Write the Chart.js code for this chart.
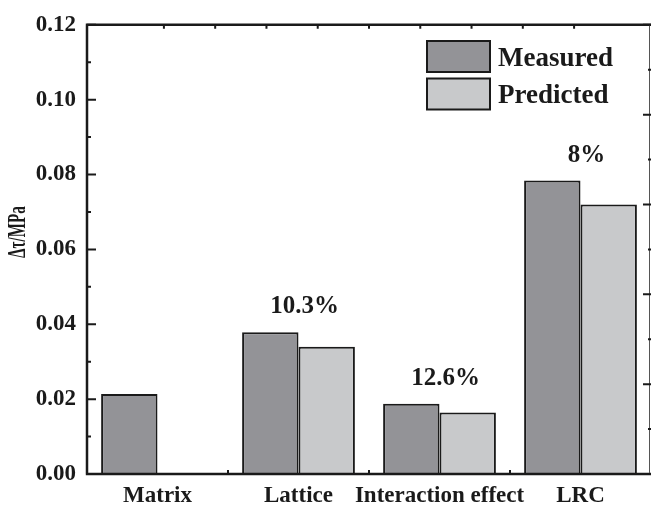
<!DOCTYPE html>
<html>
<head>
<meta charset="utf-8">
<script src="https://cdn.jsdelivr.net/npm/chart.js@4.4.1/dist/chart.umd.min.js"></script>
<style>
  html, body { margin: 0; padding: 0; background: #ffffff; }
  #wrap { width: 651px; height: 507px; }
</style>
</head>
<body>
<div id="wrap"><canvas id="c" width="651" height="507"></canvas></div>
<script>
// Strengthening contributions, measured vs. predicted
const categories = ['Matrix', 'Lattice', 'Interaction effect', 'LRC'];
const measured = [0.0214, 0.0379, 0.0188, 0.0784];
const predicted = [null, 0.0340, 0.0164, 0.0720];
const errorLabels = ['', '10.3%', '12.6%', '8%'];
const yTicks = [0, 0.02, 0.04, 0.06, 0.08, 0.10, 0.12];
const seriesNames = ['Measured', 'Predicted'];

const FONT = '"Liberation Serif", "Times New Roman", Times, serif';
const INK = '#1a1a1a';
const DARK = '#939397';
const LIGHT = '#c8c9cb';

// frame, inward ticks, error labels, legend and axis title
const decor = {
  id: 'decor',
  afterDatasetsDraw(chart) {
    const ctx = chart.ctx;
    const a = chart.chartArea;
    const y = chart.scales.y, x = chart.scales.x;
    const x2 = chart.scales.x2, y2 = chart.scales.y2;
    ctx.save();
    ctx.strokeStyle = INK;
    ctx.lineCap = 'butt';

    // frame
    ctx.lineWidth = 2.5;
    ctx.beginPath();
    ctx.moveTo(a.left, a.top); ctx.lineTo(a.left, a.bottom);
    ctx.moveTo(a.left - 1.2, a.bottom); ctx.lineTo(a.right, a.bottom);
    ctx.moveTo(a.left - 1.2, a.top); ctx.lineTo(a.right, a.top);
    ctx.stroke();
    ctx.lineWidth = 1;
    ctx.strokeStyle = '#555';
    ctx.beginPath();
    ctx.moveTo(a.right - 1.5, a.top); ctx.lineTo(a.right - 1.5, a.bottom);
    ctx.stroke();
    ctx.strokeStyle = INK;

    // left ticks (major + minor)
    ctx.lineWidth = 2;
    ctx.beginPath();
    yTicks.forEach((v, i) => {
      const py = y.getPixelForValue(v);
      ctx.moveTo(a.left, py); ctx.lineTo(a.left + 9, py);
      if (i < yTicks.length - 1) {
        const pm = y.getPixelForValue((v + yTicks[i + 1]) / 2);
        ctx.moveTo(a.left, pm); ctx.lineTo(a.left + 4, pm);
      }
    });
    // bottom ticks between categories
    for (let i = 0; i < categories.length - 1; i++) {
      const px = (x.getPixelForValue(i) + x.getPixelForValue(i + 1)) / 2;
      ctx.moveTo(px, a.bottom); ctx.lineTo(px, a.bottom - 4);
    }
    // top ticks
    for (let k = 1; k < 10; k++) {
      const px = x2.getPixelForValue(k);
      ctx.moveTo(px, a.top); ctx.lineTo(px, a.top + 4);
    }
    // right ticks
    for (let k = 0; k <= 10; k++) {
      const py = y2.getPixelForValue(k / 2);
      const len = k % 2 === 0 ? 8 : 3;
      ctx.moveTo(a.right, py); ctx.lineTo(a.right - len, py);
    }
    ctx.stroke();

    // relative error labels above the measured bars
    const meta = chart.getDatasetMeta(0);
    ctx.fillStyle = INK;
    ctx.font = 'bold 25px ' + FONT;
    ctx.textAlign = 'center';
    ctx.textBaseline = 'alphabetic';
    errorLabels.forEach((t, i) => {
      if (!t) return;
      const bar = meta.data[i];
      ctx.fillText(t, x.getPixelForValue(i) + 6, bar.y - 19);
    });

    // legend
    const lx = 427, ly = [41, 78.5], bw = 63, bh = 31;
    const fills = [DARK, LIGHT];
    ctx.font = 'bold 27px ' + FONT;
    ctx.textAlign = 'left';
    seriesNames.forEach((name, i) => {
      ctx.fillStyle = fills[i];
      ctx.fillRect(lx, ly[i], bw, bh);
      ctx.lineWidth = 2;
      ctx.strokeStyle = INK;
      ctx.strokeRect(lx, ly[i], bw, bh);
      ctx.fillStyle = INK;
      ctx.fillText(name, 498, ly[i] + 24.5);
    });

    // y axis title (narrow, tall lettering)
    ctx.save();
    ctx.translate(18.5, 232);
    ctx.rotate(-Math.PI / 2);
    ctx.scale(0.66, 1.12);
    ctx.font = 'bold 23px ' + FONT;
    ctx.textAlign = 'center';
    ctx.textBaseline = 'middle';
    ctx.fillText('\u0394\u03c4/MPa', 0, 0);
    ctx.restore();

    ctx.restore();
  }
};

new Chart(document.getElementById('c'), {
  type: 'bar',
  data: {
    labels: categories,
    datasets: [
      { label: seriesNames[0], data: measured, backgroundColor: DARK, borderColor: INK, borderWidth: 2 },
      { label: seriesNames[1], data: predicted, backgroundColor: LIGHT, borderColor: INK, borderWidth: 2 }
    ]
  },
  options: {
    responsive: false,
    animation: false,
    devicePixelRatio: 1,
    layout: { padding: { top: 20, right: 0, left: 0, bottom: 0 } },
    datasets: { bar: { categoryPercentage: 0.8, barPercentage: 1.0 } },
    plugins: { legend: { display: false }, tooltip: { enabled: false } },
    scales: {
      x: {
        grid: { display: false, drawTicks: false },
        border: { display: false },
        ticks: { color: INK, font: { family: FONT, size: 23, weight: 'bold' }, padding: 8, maxRotation: 0, autoSkip: false },
        afterFit(s) { s.height = 33; }
      },
      y: {
        min: 0, max: 0.12,
        grid: { display: false, drawTicks: false },
        border: { display: false },
        afterBuildTicks(s) { s.ticks = yTicks.map(v => ({ value: v })); },
        ticks: { color: INK, font: { family: FONT, size: 23, weight: 'bold' }, padding: 11, callback: v => v.toFixed(2) },
        afterFit(s) { s.width = 87; }
      },
      x2: { type: 'linear', position: 'top', min: 0, max: 10, display: false },
      y2: { type: 'linear', position: 'right', min: 0, max: 5, display: false }
    }
  },
  plugins: [decor]
});
</script>
</body>
</html>
